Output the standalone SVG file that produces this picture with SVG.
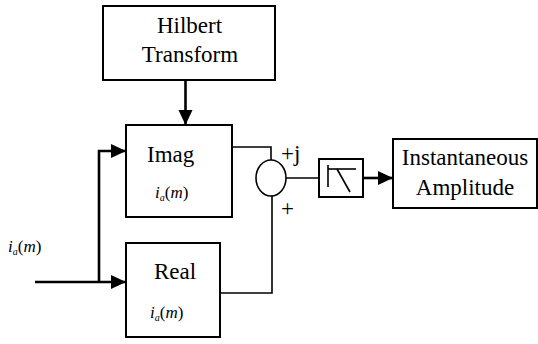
<svg xmlns="http://www.w3.org/2000/svg" width="538" height="344" viewBox="0 0 538 344" font-family="'Liberation Serif', 'DejaVu Serif', serif">
<style>
.box{fill:#fff;stroke:#000;stroke-width:2}
.ln{fill:none;stroke:#000;stroke-width:1.6}
.th{fill:none;stroke:#000;stroke-width:2.6}
text{font-family:'Liberation Serif','DejaVu Serif',serif;fill:#000}
.t{font-size:23px}
.m{font-size:17px}
.it{font-style:italic}
</style>
<defs>
<marker id="ah" markerUnits="userSpaceOnUse" markerWidth="16" markerHeight="16" viewBox="0 0 16 16" refX="15" refY="8" orient="auto">
<path d="M0,1 L15,8 L0,15 Z" fill="#000"/>
</marker>
</defs>
<rect width="538" height="344" fill="#fff"/>
<g id="connectors">
<line class="th" x1="185.5" y1="80" x2="185.5" y2="125" marker-end="url(#ah)"/>
<line class="th" x1="35" y1="282" x2="126" y2="282" marker-end="url(#ah)"/>
<polyline class="th" points="99,282 99,151 126,151" marker-end="url(#ah)"/>
<polyline class="ln" points="232,147 271,147 271,160"/>
<polyline class="ln" points="220,293 272,293 272,196"/>
<line class="ln" x1="286" y1="178" x2="319" y2="178"/>
<line class="th" x1="363" y1="178" x2="393" y2="178" marker-end="url(#ah)"/>
</g>
<g id="hilbert">
<rect class="box" x="103" y="6" width="172" height="74"/>
<text class="t" x="189.5" y="33" text-anchor="middle">Hilbert</text>
<text class="t" x="190" y="62" text-anchor="middle">Transform</text>
</g>
<g id="imag">
<rect class="box" x="126" y="125" width="106" height="92"/>
<text class="t" x="147" y="162">Imag</text>
<text class="m" x="155" y="198"><tspan class="it">i</tspan><tspan class="it" font-size="10" dy="3">a</tspan><tspan dy="-3">(</tspan><tspan class="it">m</tspan>)</text>
</g>
<g id="real">
<rect class="box" x="126" y="243" width="94" height="94"/>
<text class="t" x="154" y="279">Real</text>
<text class="m" x="150" y="318"><tspan class="it">i</tspan><tspan class="it" font-size="10" dy="3">a</tspan><tspan dy="-3">(</tspan><tspan class="it">m</tspan>)</text>
</g>
<g id="input-label">
<text class="m" x="8" y="252"><tspan class="it">i</tspan><tspan class="it" font-size="10" dy="3">a</tspan><tspan dy="-3">(</tspan><tspan class="it">m</tspan>)</text>
</g>
<g id="sum">
<ellipse class="ln" cx="271" cy="178" rx="15" ry="18" stroke-width="2"/>
<text class="t" x="281" y="161">+j</text>
<text class="t" x="281" y="216">+</text>
</g>
<g id="filter">
<rect class="box" x="319" y="159" width="44" height="38"/>
<polyline class="ln" points="328,165 328,187"/>
<line class="ln" x1="328" y1="169" x2="356" y2="169"/>
<line class="ln" x1="337" y1="169" x2="350" y2="192"/>
</g>
<g id="amplitude">
<rect class="box" x="393" y="139" width="144" height="69"/>
<text class="t" x="465" y="165" text-anchor="middle">Instantaneous</text>
<text class="t" x="465" y="195" text-anchor="middle">Amplitude</text>
</g>
</svg>
